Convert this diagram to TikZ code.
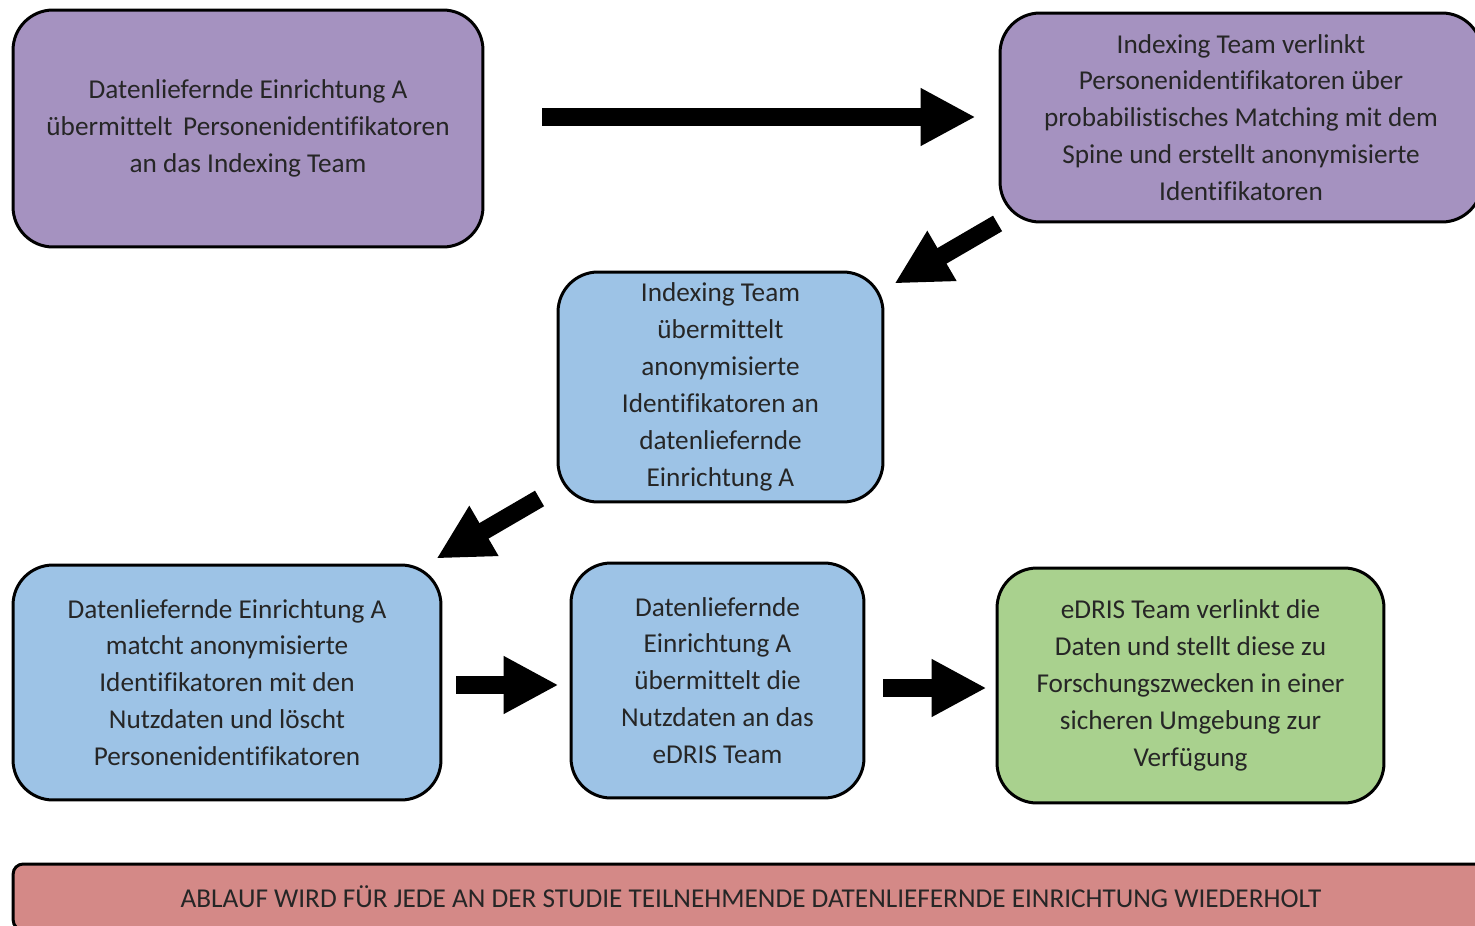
\documentclass[tikz,border=0pt]{standalone}
\usepackage{fontspec}
\setmainfont{Carlito}[Ligatures=CommonOff]
\usepackage{xcolor}
\usetikzlibrary{arrows.meta}

\definecolor{lila}{RGB}{165,146,192}
\definecolor{hellblau}{RGB}{157,195,230}
\definecolor{gruen}{RGB}{169,209,142}
\definecolor{rosa}{RGB}{212,137,135}

\begin{document}
\begin{tikzpicture}[x=0.02cm,y=-0.02cm,
    box/.style={draw=black,line width=1.7pt,rounded corners=0.8cm,align=center,
      text=black!85,font=\fontsize{15.5}{21}\selectfont,inner sep=0pt},
    bigarrow/.style={line width=0.36cm,-{Triangle[length=1.1cm,width=1.08cm]}}]
\clip (0,0) rectangle (1475,926);

    \node[box,fill=lila,minimum width=9.4cm,minimum height=4.74cm] (a) at (248,128.5)
      {Datenliefernde Einrichtung A\\übermittelt\ \,Personenidentifikatoren\\an das Indexing Team};
    \node[box,fill=lila,minimum width=9.64cm,minimum height=4.18cm] (b) at (1241,117.5)
      {Indexing Team verlinkt\\Personenidentifikatoren über\\probabilistisches Matching mit dem\\Spine und erstellt anonymisierte\\Identifikatoren};
    \node[box,fill=hellblau,minimum width=6.5cm,minimum height=4.6cm] (c) at (720.5,387)
      {Indexing Team\\übermittelt\\anonymisierte\\Identifikatoren an\\datenliefernde\\Einrichtung A};
    \node[box,fill=hellblau,minimum width=8.56cm,minimum height=4.7cm] (d) at (227,682.5)
      {Datenliefernde Einrichtung A\\matcht anonymisierte\\Identifikatoren mit den\\Nutzdaten und löscht\\Personenidentifikatoren};
    \node[box,fill=hellblau,minimum width=5.86cm,minimum height=4.7cm] (e) at (717.5,680.5)
      {Datenliefernde\\Einrichtung A\\übermittelt die\\Nutzdaten an das\\eDRIS Team};
    \node[box,fill=gruen,minimum width=7.74cm,minimum height=4.7cm] (f) at (1190.5,685.5)
      {eDRIS Team verlinkt die\\Daten und stellt diese zu\\Forschungszwecken in einer\\sicheren Umgebung zur\\Verfügung};

    \node[box,fill=rosa,rounded corners=0.2cm,minimum width=29.52cm,minimum height=1.32cm] (bar) at (751,897)
      {ABLAUF WIRD FÜR JEDE AN DER STUDIE TEILNEHMENDE DATENLIEFERNDE EINRICHTUNG WIEDERHOLT};

    % Pfeile zwischen den Schritten
    \draw[bigarrow] ([shift={(58,-11.5)}]a.east) -- ([shift={(-23,-0.5)}]b.west);
    \draw[bigarrow] ([shift={(-1,0)}]b.south west) -- ([shift={(10,13)}]c.north east);
    \draw[bigarrow] ([shift={(-17,-5)}]c.south west) -- ([shift={(-6,-5)}]d.north east);
    \draw[bigarrow] ([shift={(14,2.5)}]d.east) -- ([shift={(-11,4.5)}]e.west);
    \draw[bigarrow] ([shift={(18,7.5)}]e.east) -- ([shift={(-9,2.5)}]f.west);

\end{tikzpicture}
\end{document}
